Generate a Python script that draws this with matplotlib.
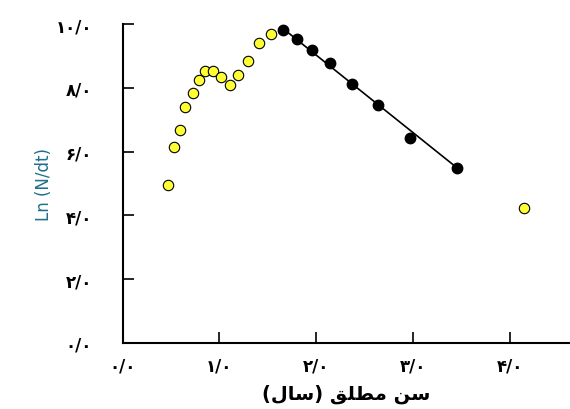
import matplotlib
matplotlib.use("Agg")
import matplotlib.pyplot as plt

yellow_x = [0.47, 0.53, 0.59, 0.64, 0.73, 0.79, 0.85, 0.93, 1.02, 1.11, 1.19, 1.30, 1.41, 1.53, 4.15]
yellow_y = [4.94, 6.13, 6.69, 7.41, 7.84, 8.25, 8.53, 8.53, 8.34, 8.10, 8.41, 8.84, 9.41, 9.69, 4.22]
black_x = [1.66, 1.80, 1.96, 2.14, 2.37, 2.64, 2.97, 3.45]
black_y = [9.81, 9.53, 9.19, 8.78, 8.13, 7.47, 6.44, 5.50]
fit_x = [1.66, 3.45]
fit_y = [9.85, 5.50]

xticks = [0, 1, 2, 3, 4]
xtick_labels = ["۰/۰", "۱/۰", "۲/۰", "۳/۰", "۴/۰"]
yticks = [0, 2, 4, 6, 8, 10]
ytick_labels = ["۰/۰", "۲/۰", "۴/۰", "۶/۰", "۸/۰", "۱۰/۰"]

# visual-order presentation forms for "سن مطلق (سال)"
xlabel = "(" + "\uFEDD\uFE8E\uFEB3" + ") " + "\uFED6\uFEE0\uFEC4\uFEE3" + " " + "\uFEE6\uFEB3"

fig = plt.figure(figsize=(5.7, 4.1), dpi=100)
ax = fig.add_axes([0.215, 0.161, 0.785, 0.778])

ax.plot(fit_x, fit_y, color="black", linewidth=1.2)
ax.plot(yellow_x, yellow_y, "o", color="#ffff33", markeredgecolor="black",
        markeredgewidth=0.8, markersize=7.5, linestyle="none")
ax.plot(black_x, black_y, "o", color="black", markersize=7.5, linestyle="none")

ax.set_xlim(0, 4.62)
ax.set_ylim(0, 10)
ax.spines["top"].set_visible(False)
ax.spines["right"].set_visible(False)
ax.spines["left"].set_linewidth(1.5)
ax.spines["bottom"].set_linewidth(1.5)
ax.tick_params(direction="in", length=8, width=1.2)
ax.tick_params(axis="x", pad=10)
ax.tick_params(axis="y", pad=22)
ax.set_xticks(xticks)
ax.set_xticklabels(xtick_labels, fontsize=12, fontweight="bold")
ax.set_yticks(yticks)
ax.set_yticklabels(ytick_labels, fontsize=12, fontweight="bold")
ax.set_xlabel(xlabel, fontsize=14, fontweight="bold", labelpad=6)
ax.set_ylabel("Ln (N/dt)", fontsize=12, color="#1f6f8b", labelpad=2)

fig.savefig("out.png", dpi=100)
